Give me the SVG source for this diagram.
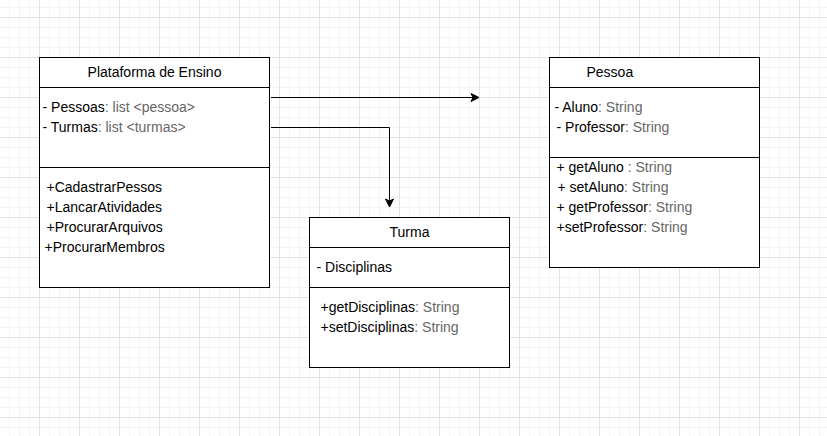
<svg xmlns="http://www.w3.org/2000/svg" width="827" height="436" viewBox="0 0 827 436">
<defs>
<pattern id="grid" patternUnits="userSpaceOnUse" x="39" y="17" width="40" height="40">
<rect x="10" y="0" width="1" height="40" fill="#f4f4f4"/>
<rect x="20" y="0" width="1" height="40" fill="#f4f4f4"/>
<rect x="30" y="0" width="1" height="40" fill="#f4f4f4"/>
<rect x="0" y="10" width="40" height="1" fill="#f4f4f4"/>
<rect x="0" y="20" width="40" height="1" fill="#f4f4f4"/>
<rect x="0" y="30" width="40" height="1" fill="#f4f4f4"/>
<rect x="0" y="0" width="1" height="40" fill="#e3e3e3"/>
<rect x="0" y="0" width="40" height="1" fill="#e3e3e3"/>
</pattern>
<marker id="arrow" markerUnits="userSpaceOnUse" markerWidth="12" markerHeight="12" viewBox="0 0 12 12" refX="9" refY="6" orient="auto">
<path d="M1,2 L9,6 L1,10 L3,6 Z" fill="#000" stroke="#000" stroke-width="1"/>
</marker>
<style>
.box{fill:#fff;stroke:#000;stroke-width:1}
.div{stroke:#000;stroke-width:1}
text{font-family:"Liberation Sans",Arial,Helvetica,sans-serif;font-size:14px;fill:#000}
.t{fill:#666}
.conn{fill:none;stroke:#000;stroke-width:1}
</style>
</defs>
<rect width="827" height="436" fill="#fff"/>
<rect width="827" height="436" fill="url(#grid)"/>

<g id="plataforma">
<rect class="box" x="39.5" y="57.5" width="230" height="230"/>
<line class="div" x1="39.5" y1="87.5" x2="269.5" y2="87.5"/>
<line class="div" x1="39.5" y1="167.5" x2="269.5" y2="167.5"/>
<text x="154.5" y="77" text-anchor="middle">Plataforma de Ensino</text>
<text x="42.5" y="112">- Pessoas<tspan class="t">: list &lt;pessoa&gt;</tspan></text>
<text x="42.5" y="132">- Turmas<tspan class="t">: list &lt;turmas&gt;</tspan></text>
<text x="46.5" y="192">+CadastrarPessos</text>
<text x="46.5" y="212">+LancarAtividades</text>
<text x="46.5" y="232">+ProcurarArquivos</text>
<text x="44.5" y="252">+ProcurarMembros</text>
</g>

<g id="pessoa">
<rect class="box" x="549.5" y="57.5" width="210" height="210"/>
<line class="div" x1="549.5" y1="87.5" x2="759.5" y2="87.5"/>
<line class="div" x1="549.5" y1="157.5" x2="759.5" y2="157.5"/>
<text x="586.5" y="77">Pessoa</text>
<text x="554.5" y="112">- Aluno<tspan class="t">: String</tspan></text>
<text x="556.5" y="132">- Professor<tspan class="t">: String</tspan></text>
<text x="556.5" y="172">+ getAluno<tspan class="t"> : String</tspan></text>
<text x="557.5" y="192">+ setAluno<tspan class="t">: String</tspan></text>
<text x="556.5" y="212">+ getProfessor<tspan class="t">: String</tspan></text>
<text x="556.5" y="232">+setProfessor<tspan class="t">: String</tspan></text>
</g>

<g id="turma">
<rect class="box" x="309.5" y="217.5" width="200" height="150"/>
<line class="div" x1="309.5" y1="247.5" x2="509.5" y2="247.5"/>
<line class="div" x1="309.5" y1="287.5" x2="509.5" y2="287.5"/>
<text x="409.5" y="237" text-anchor="middle">Turma</text>
<text x="316.5" y="272">- Disciplinas</text>
<text x="320.5" y="312">+getDisciplinas<tspan class="t">: String</tspan></text>
<text x="320.5" y="332">+setDisciplinas<tspan class="t">: String</tspan></text>
</g>

<g id="connectors">
<path class="conn" d="M271,97.5 L479,97.5" marker-end="url(#arrow)"/>
<path class="conn" d="M271,127.5 L389.5,127.5 L389.5,207" marker-end="url(#arrow)"/>
</g>
</svg>
